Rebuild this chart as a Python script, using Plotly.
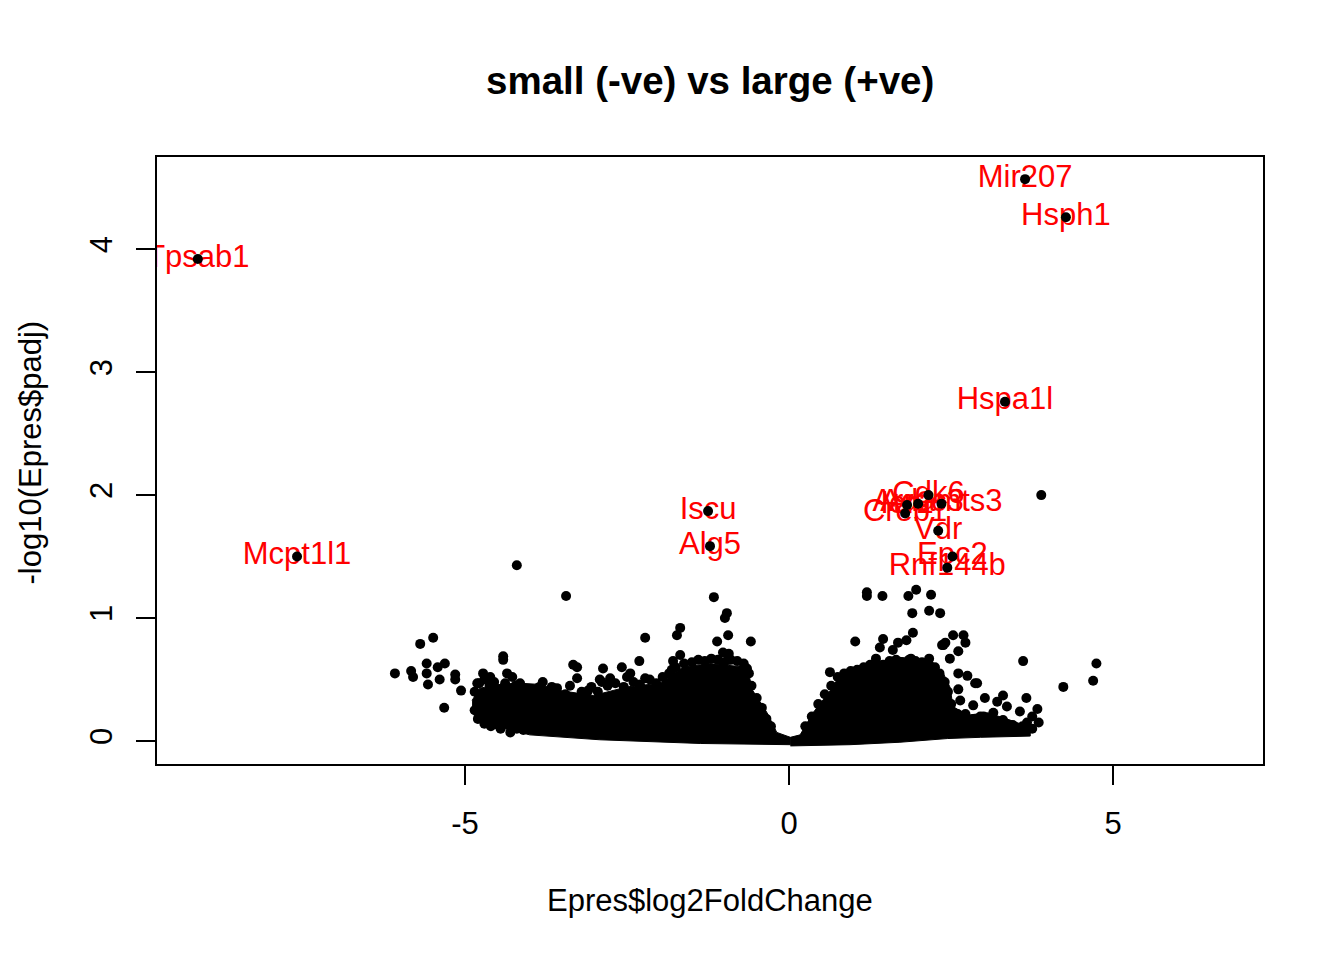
import plotly.graph_objects as go

# ---- Data ----
# Dense core of the volcano cloud (outline of the solid ink area), left and right arms
core_left_x = [-4.89, -4.77, -4.46, -4.15, -3.84, -3.53, -3.02, -2.50, -1.99, -1.64, -1.22, -0.65,
               -0.56, -0.34, -0.19, 0.02, 0.02, -1.37, -2.92, -4.00, -4.46, -4.77, -4.89]
core_left_y = [0.33, 0.43, 0.46, 0.47, 0.46, 0.41, 0.37, 0.44, 0.47, 0.60, 0.63, 0.60,
               0.41, 0.23, 0.07, 0.03, -0.03, -0.02, 0.01, 0.05, 0.11, 0.15, 0.24]
core_right_x = [0.02, 0.17, 0.37, 0.68, 0.79, 1.14, 1.40, 1.71, 2.02, 2.22, 2.38, 2.48, 2.53,
                2.75, 3.06, 3.41, 3.72, 3.72, 2.95, 2.44, 1.71, 0.94, 0.02]
core_right_y = [0.03, 0.05, 0.23, 0.44, 0.55, 0.59, 0.63, 0.68, 0.66, 0.64, 0.55, 0.44, 0.28,
                0.21, 0.23, 0.17, 0.11, 0.04, 0.03, 0.02, -0.01, -0.03, -0.04]

# Genes along the ragged edge of the dense core
edge_x = [-4.85, -4.78, -4.70, -4.62, -4.55, -4.47, -4.38, -4.30, -4.22, -4.05, -3.95, -3.85,
          -3.72, -3.58, -3.45, -3.38, -3.20, -3.05, -2.95, -2.80, -2.68, -2.55, -2.40, -2.30,
          -2.15, -2.05, -1.95, -1.85, -1.75, -1.62, -1.50, -1.40, -1.30, -1.20, -1.10, -1.00,
          -0.90, -0.80, -0.70, -0.62, -0.58, -0.50, -0.42, -0.35, -0.28,
          -4.85, -4.80, -4.70, -4.60, -4.45, -4.30, -4.20,
          0.25, 0.35, 0.45, 0.55, 0.65, 0.75, 0.85, 0.95, 1.05, 1.15, 1.25, 1.35, 1.45, 1.55,
          1.65, 1.75, 1.85, 1.95, 2.05, 2.15, 2.25, 2.32, 2.40, 2.45, 2.50, 2.60, 2.72, 2.85,
          3.00, 3.15, 3.30, 3.45, 3.60, 3.75, 3.85]
edge_y = [0.40, 0.47, 0.50, 0.45, 0.48, 0.42, 0.47, 0.43, 0.45, 0.42, 0.40, 0.44,
          0.40, 0.43, 0.38, 0.45, 0.40, 0.44, 0.40, 0.45, 0.47, 0.44, 0.48, 0.46,
          0.50, 0.47, 0.52, 0.55, 0.60, 0.63, 0.64, 0.66, 0.65, 0.67, 0.66, 0.64,
          0.66, 0.65, 0.63, 0.55, 0.45, 0.35, 0.27, 0.18, 0.12,
          0.25, 0.18, 0.14, 0.12, 0.10, 0.07, 0.10,
          0.12, 0.20, 0.30, 0.38, 0.45, 0.52, 0.55, 0.57, 0.58, 0.60, 0.62, 0.63, 0.62, 0.65,
          0.66, 0.64, 0.66, 0.65, 0.64, 0.62, 0.60, 0.55, 0.48, 0.40, 0.30, 0.22, 0.22, 0.18,
          0.20, 0.16, 0.17, 0.13, 0.12, 0.10, 0.15]

# Individual genes outside the dense core
log2fc = [-6.08, -5.83, -5.80, -5.69, -5.49, -5.59, -5.59, -5.42, -5.31, -5.39, -5.57, -5.15,
          -5.15, -5.06, -5.32, -4.41, -4.41, -4.72, -4.61, -4.81, -4.35, -4.27, -4.15, -4.51,
          -4.77, -4.61, -4.49, -4.10, -4.20, -3.44, -3.80, -3.66, -3.33, -3.27, -3.27, -3.10,
          -2.87, -2.92, -2.58, -2.50, -2.76, -2.89, -2.45, -2.31, -2.22, -2.22, -1.68, -1.73,
          -1.68, -1.79, -1.81, -0.96, -0.99, -0.94, -1.11, -0.59, -1.02, -0.93, -0.94, -0.65,
          -1.16,
          1.20, 1.20, 1.44, 1.84, 1.96, 2.19, 1.90, 2.16, 2.33, 1.91, 1.02, 1.45, 1.40, 1.60,
          1.68, 1.81, 2.36, 2.41, 2.53, 2.69, 2.72, 2.61, 2.48, 3.61, 1.34, 1.88, 2.16, 0.63,
          4.23, 2.61, 2.75, 2.87, 2.61, 2.64, 3.02, 2.84, 3.30, 3.21, 3.66, 3.36, 3.56, 3.83,
          3.75, 3.67, 3.36, 3.15, 2.95, 4.74, 4.69, 3.89, 2.90, 2.38]
neglog10_padj = [0.55, 0.57, 0.52, 0.79, 0.84, 0.63, 0.55, 0.60, 0.63, 0.50, 0.46, 0.54,
                 0.50, 0.41, 0.27, 0.69, 0.66, 0.55, 0.52, 0.47, 0.55, 0.52, 0.47, 0.28,
                 0.21, 0.17, 0.13, 0.09, 1.43, 1.18, 0.48, 0.44, 0.62, 0.60, 0.51, 0.41,
                 0.59, 0.50, 0.60, 0.52, 0.51, 0.48, 0.55, 0.65, 0.84, 0.51, 0.92, 0.86,
                 0.70, 0.65, 0.58, 1.04, 1.00, 0.86, 0.81, 0.81, 0.72, 0.71, 0.66, 0.59,
                 1.17,
                 1.21, 1.18, 1.18, 1.18, 1.23, 1.19, 1.04, 1.06, 1.04, 0.88, 0.81, 0.83, 0.76, 0.74,
                 0.80, 0.82, 0.78, 0.80, 0.86, 0.86, 0.80, 0.73, 0.67, 0.65, 0.67, 0.67, 0.67, 0.56,
                 0.44, 0.55, 0.53, 0.47, 0.42, 0.33, 0.35, 0.29, 0.37, 0.32, 0.35, 0.28, 0.24, 0.26,
                 0.20, 0.15, 0.12, 0.23, 0.20, 0.63, 0.49, 2.00, 0.47, 0.78]

# Labelled genes
gene_names = ["Tpsab1", "Mcpt1l1", "Iscu", "Alg5", "Mir207", "Hsph1", "Hspa1l", "Cdk6", "Ier2",
              "Arrdc3", "Adamts3", "Creb1", "Vdr", "Epc2", "Rnf144b"]
gene_x = [-9.12, -7.59, -1.25, -1.22, 3.64, 4.27, 3.33, 2.15, 1.82, 1.99, 2.35, 1.79, 2.30, 2.52, 2.44]
gene_y = [3.92, 1.50, 1.87, 1.585, 4.57, 4.26, 2.76, 2.00, 1.92, 1.93, 1.93, 1.85, 1.71, 1.50, 1.41]

x_ticks = [-5, 0, 5]
x_ticktext = ["-5", "0", "5"]
y_ticks = [0, 1, 2, 3, 4]

FONT = "Liberation Sans, Arial, Helvetica, sans-serif"
DOT = 10

fig = go.Figure()
for cx, cy in ((core_left_x, core_left_y), (core_right_x, core_right_y)):
    fig.add_trace(go.Scatter(x=cx, y=cy, mode="lines", fill="toself", fillcolor="black",
                             line=dict(color="black", width=1), hoverinfo="skip", showlegend=False))
fig.add_trace(go.Scatter(x=edge_x, y=edge_y, mode="markers",
                         marker=dict(color="black", size=DOT, line=dict(width=0)), showlegend=False))
fig.add_trace(go.Scatter(x=log2fc, y=neglog10_padj, mode="markers",
                         marker=dict(color="black", size=DOT, line=dict(width=0)), showlegend=False))
fig.add_trace(go.Scatter(x=gene_x, y=gene_y, mode="text", text=gene_names,
                         textposition="middle center",
                         textfont=dict(color="red", size=31, family=FONT),
                         cliponaxis=True, showlegend=False))
fig.add_trace(go.Scatter(x=gene_x, y=gene_y, mode="markers",
                         marker=dict(color="black", size=DOT, line=dict(width=0)), showlegend=False))

axis_common = dict(showgrid=False, zeroline=False, showline=True, mirror=True,
                   linecolor="black", linewidth=1.5, ticks="outside", ticklen=19,
                   tickwidth=1.5, tickcolor="black",
                   tickfont=dict(size=31, family=FONT, color="black"))
fig.update_xaxes(range=[-9.75, 7.31], tickvals=x_ticks, ticktext=x_ticktext,
                 ticklabelstandoff=12, **axis_common)
fig.update_yaxes(range=[-0.187, 4.75], tickvals=y_ticks, tickangle=-90,
                 ticklabelstandoff=12, **axis_common)

# the page body has an 8px margin, so margins are offset to put the plot box where it belongs
fig.update_layout(
    width=1344, height=960,
    margin=dict(l=149, r=89, t=149, b=204, autoexpand=False),
    paper_bgcolor="white", plot_bgcolor="white",
    font=dict(family=FONT, color="black"),
    annotations=[
        dict(text="<b>small (-ve) vs large (+ve)</b>", x=0.5, y=1, xref="paper", yref="paper",
             xanchor="center", yanchor="middle", yshift=77, showarrow=False,
             font=dict(size=38.5, family=FONT, color="black")),
        dict(text="Epres$log2FoldChange", x=0.5, y=0, xref="paper", yref="paper",
             xanchor="center", yanchor="middle", yshift=-136, showarrow=False,
             font=dict(size=31, family=FONT, color="black")),
        dict(text="-log10(Epres$padj)", x=0, y=0.5, xref="paper", yref="paper",
             xanchor="center", yanchor="middle", xshift=-127, yshift=8, textangle=-90,
             showarrow=False, font=dict(size=31, family=FONT, color="black")),
    ],
)

fig.write_html("out.html")
